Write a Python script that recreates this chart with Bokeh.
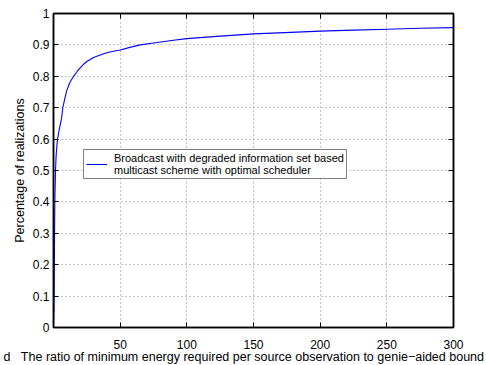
from bokeh.plotting import figure
from bokeh.models import LinearAxis, Range1d, FixedTicker, Legend, LegendItem, Title
from bokeh.embed import file_html
from bokeh.resources import INLINE

x_vals = [0, 0.3, 0.5, 0.8, 1, 1.5, 2, 3, 4.5, 6, 7, 8.5, 10, 12, 15, 18, 20, 23, 25, 30, 35,
          40, 45, 50, 58, 65, 75, 90, 100, 125, 150, 178, 200, 225, 250, 275, 300]
y_vals = [0, 0.05, 0.1, 0.3, 0.4, 0.5, 0.55, 0.6, 0.635, 0.665, 0.7, 0.73, 0.755, 0.778, 0.8,
          0.817, 0.827, 0.84, 0.847, 0.86, 0.868, 0.875, 0.88, 0.884, 0.893, 0.9, 0.906,
          0.915, 0.92, 0.928, 0.935, 0.94, 0.944, 0.947, 0.95, 0.953, 0.955]
x_ticks = [50, 100, 150, 200, 250, 300]
y_ticks = [0, 0.1, 0.2, 0.3, 0.4, 0.5, 0.6, 0.7, 0.8, 0.9, 1]
y_tick_labels = ["0", "0.1", "0.2", "0.3", "0.4", "0.5", "0.6", "0.7", "0.8", "0.9", "1"]
x_label_prefix = "d"
x_label_main = "The ratio of minimum energy required per source observation to genie\u2212aided bound"
y_label = "Percentage of realizations"
series_label = "Broadcast with degraded information set based\nmulticast scheme with optimal scheduler"

NBSP = "\u00a0"
x_label = x_label_prefix + NBSP * 3 + x_label_main

FONT = "Liberation Sans"

p = figure(width=486, height=365, x_range=Range1d(0, 300), y_range=Range1d(0, 1),
           output_backend="svg", toolbar_location=None,
           min_border_left=53, min_border_right=33, min_border_top=13, min_border_bottom=38,
           background_fill_color="white", border_fill_color="white")
p.outline_line_color = "black"
p.outline_line_width = 1.5

r = p.line(x_vals, y_vals, line_color="#0000ff", line_width=1.1)

def style_axis(ax, labels=True):
    ax.axis_line_color = "black"
    ax.axis_line_width = 1.5
    ax.major_tick_in = 5
    ax.major_tick_out = 0
    ax.minor_tick_line_color = None
    ax.major_tick_line_color = "black"
    ax.major_label_text_font = FONT
    ax.major_label_text_color = "black"
    if labels:
        ax.major_label_text_font_size = "12px"
    else:
        ax.major_label_text_font_size = "1px"
        ax.major_label_text_color = None
        ax.major_label_standoff = 0

xa = p.xaxis[0]
ya = p.yaxis[0]
xa.ticker = FixedTicker(ticks=x_ticks)
ya.ticker = FixedTicker(ticks=y_ticks)
ya.major_label_overrides = {t: l for t, l in zip(y_ticks, y_tick_labels)}
style_axis(xa)
style_axis(ya)
xa.major_label_standoff = 12
ya.major_label_standoff = 4
ya.axis_label = y_label
ya.axis_label_text_font = FONT
ya.axis_label_text_font_size = "12.5px"
ya.axis_label_text_font_style = "normal"
ya.axis_label_text_color = "black"
ya.axis_label_standoff = 3

xtitle = Title(text=x_label, align="left", offset=-50, standoff=-7,
               text_font=FONT, text_font_size="12.5px", text_font_style="normal",
               text_color="black")
p.add_layout(xtitle, "below")

top = LinearAxis(ticker=FixedTicker(ticks=x_ticks))
right = LinearAxis(ticker=FixedTicker(ticks=y_ticks))
style_axis(top, labels=False)
style_axis(right, labels=False)
p.add_layout(top, "above")
p.add_layout(right, "right")

for g, ticks in ((p.xgrid[0], x_ticks), (p.ygrid[0], y_ticks)):
    g.ticker = FixedTicker(ticks=ticks)
    g.grid_line_color = "#8a8a8a"
    g.grid_line_dash = "1 3"
    g.grid_line_width = 1

legend = Legend(items=[LegendItem(label=series_label, renderers=[r])], location=(30, 148))
legend.border_line_color = "black"
legend.border_line_width = 1
legend.padding = 2
legend.margin = 0
legend.spacing = 0
legend.glyph_width = 21
legend.label_standoff = 7
legend.label_text_font = FONT
legend.label_text_font_size = "11px"
legend.label_text_line_height = 1.0
legend.label_text_color = "black"
legend.background_fill_alpha = 1
p.add_layout(legend)

open("out.html", "w").write(file_html(p, INLINE))
